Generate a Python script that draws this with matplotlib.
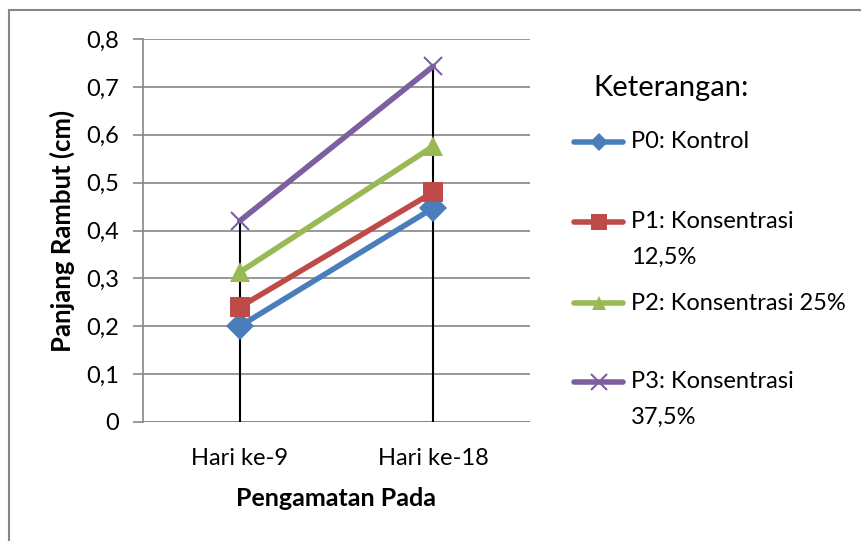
import matplotlib
matplotlib.use("Agg")
import matplotlib.pyplot as plt
from matplotlib.lines import Line2D
from matplotlib.patches import Rectangle

plt.rcParams['font.family'] = ['Lato', 'DejaVu Sans']

categories = ["Hari ke-9", "Hari ke-18"]
p0 = [0.20, 0.447]
p1 = [0.24, 0.48]
p2 = [0.313, 0.576]
p3 = [0.42, 0.743]
series_labels = ["P0: Kontrol", "P1: Konsentrasi\n12,5%", "P2: Konsentrasi 25%", "P3: Konsentrasi\n37,5%"]
yticks = [0, 0.1, 0.2, 0.3, 0.4, 0.5, 0.6, 0.7, 0.8]
yticklabels = ["0", "0,1", "0,2", "0,3", "0,4", "0,5", "0,6", "0,7", "0,8"]

colors = ["#4a7ebb", "#be4b48", "#98b954", "#7d5fa0"]
markers = ["D", "s", "^", "x"]
msizes = [14, 14, 15, 13]
leg_msizes = [9, 11, 10, 11]

W, H = 861, 541
fig = plt.figure(figsize=(W / 100, H / 100), dpi=100)
ax = fig.add_axes([143 / W, 1 - 422 / H, (530 - 143) / W, (422 - 39) / H])

x = list(range(len(categories)))
all_series = [p0, p1, p2, p3]

# drop lines
for i in x:
    top = max(s[i] for s in all_series)
    ax.vlines(i, 0, top, color="black", lw=1.5, zorder=2)

for s, c, m, ms in zip(all_series, colors, markers, msizes):
    mew = 1.5 if m == "x" else 0
    ax.plot(x, s, color=c, lw=4, marker=m, markersize=ms, markeredgewidth=mew,
            markeredgecolor=c, zorder=3, solid_capstyle="round")

ax.set_xlim(-0.5, 1.5)
ax.set_ylim(0, 0.8)
ax.set_yticks(yticks)
ax.set_yticklabels(yticklabels, fontsize=17)
ax.set_xticks(x)
ax.set_xticklabels(categories, fontsize=17)
ax.tick_params(axis="x", length=0, pad=19)
ax.tick_params(axis="y", length=7, color="#868686", width=1.2, pad=10)
ax.yaxis.grid(True, color="#868686", lw=1.2)
ax.set_axisbelow(True)
for sp in ["top", "right", "bottom"]:
    ax.spines[sp].set_visible(False)
ax.spines["left"].set_color("#868686")
ax.spines["left"].set_linewidth(1.2)
ax.axhline(0, color="#868686", lw=1.2, zorder=1)

ax.set_ylabel("Panjang Rambut (cm)", fontsize=18.5, fontweight="bold")
ax.yaxis.set_label_coords((62 - 143) / (530 - 143), 0.5)
ax.set_xlabel("Pengamatan Pada", fontsize=18, fontweight="bold")
ax.xaxis.set_label_coords(0.5, -(498 - 422) / (422 - 39))
ax.xaxis.label.set_va("center")
ax.yaxis.label.set_va("center")

# legend (manual)
fig.text(593 / W, 1 - 88 / H, "Keterangan:", fontsize=21, va="center", ha="left")
rows = [142, 222, 303, 382]
for lab, c, m, ms, yy in zip(series_labels, colors, markers, leg_msizes, rows):
    yf = 1 - yy / H
    mew = 1.5 if m == "x" else 0
    fig.add_artist(Line2D([574 / W, 623 / W], [yf, yf], color=c, lw=4,
                          solid_capstyle="round", transform=fig.transFigure))
    fig.add_artist(Line2D([598.5 / W], [yf], color=c, marker=m, markersize=ms,
                          markeredgewidth=mew, markeredgecolor=c, transform=fig.transFigure))
    lines = lab.split("\n")
    for k, ln in enumerate(lines):
        fig.text(631 / W, 1 - (yy + 35 * k) / H, ln, fontsize=17, va="center",
                 ha="left", transform=fig.transFigure)

fig.add_artist(Rectangle((8.5 / W, -0.01), 2, 1 - 9.5 / H + 0.01, fill=False,
                         edgecolor="#868686", lw=1.5, transform=fig.transFigure))

fig.savefig("out.png", dpi=100)
